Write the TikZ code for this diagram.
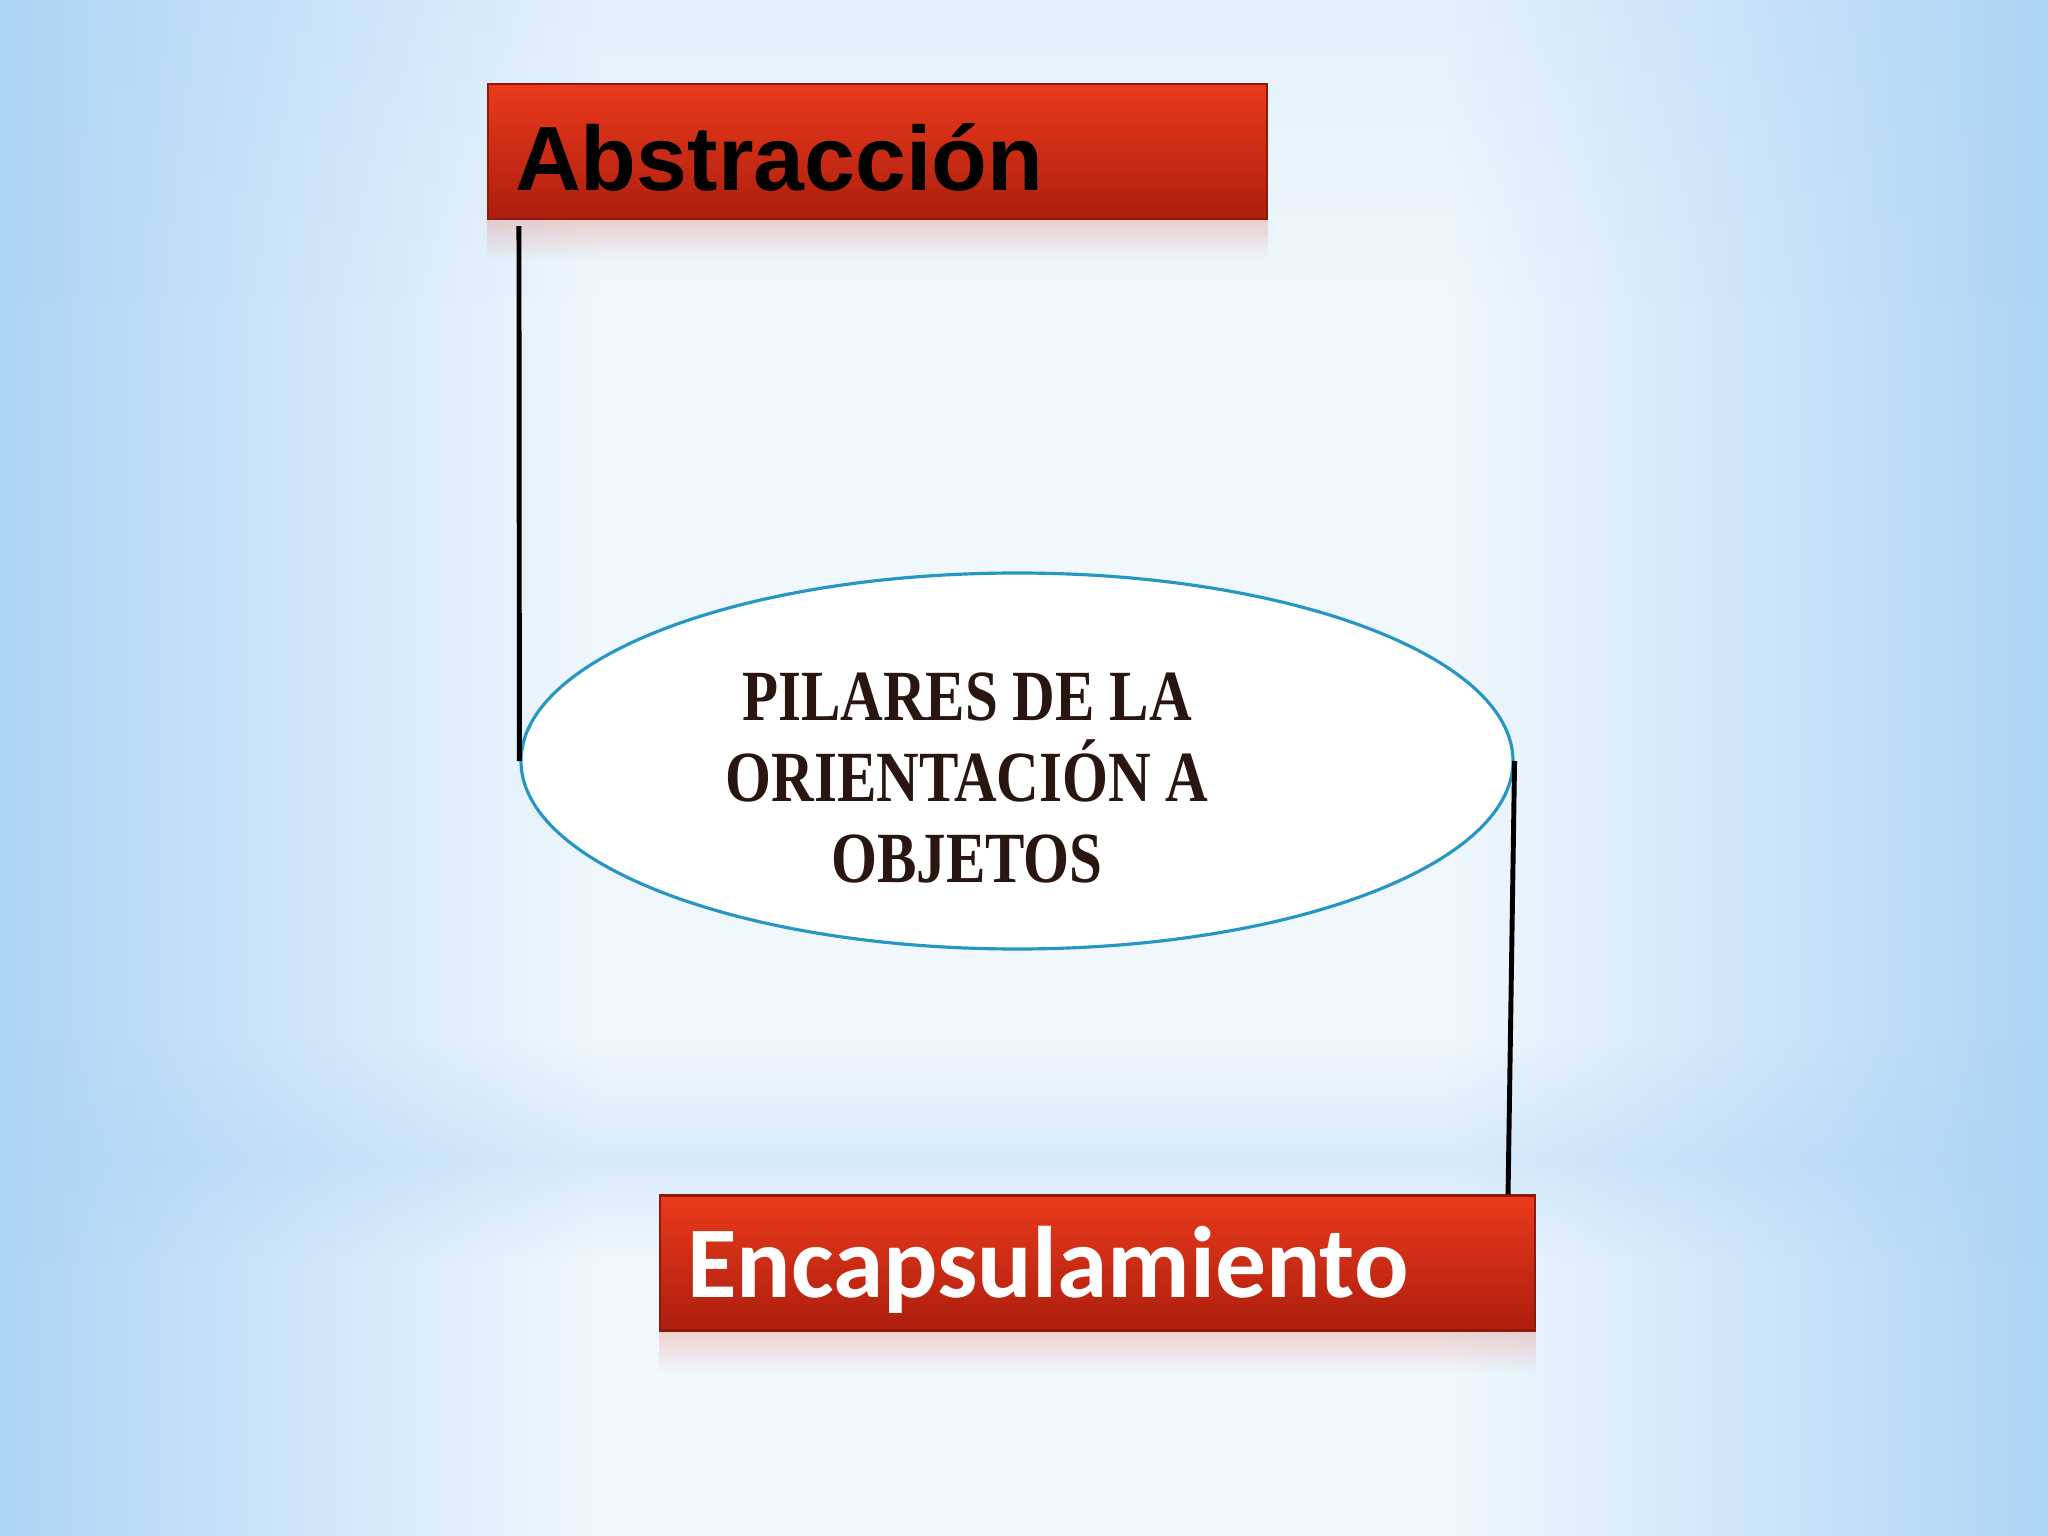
\documentclass[tikz,border=0pt]{standalone}
\usepackage{fontspec}
\usetikzlibrary{shapes,fadings}
\newfontfamily\cajafont{Liberation Sans}
\newfontfamily\encfont{Carlito}
\newfontfamily\pilarfont{Liberation Serif}[FakeStretch=0.82]

\definecolor{rojoarriba}{RGB}{234,58,28}
\definecolor{rojoabajo}{RGB}{172,30,14}
\definecolor{rojoborde}{RGB}{140,25,10}
\definecolor{azulelipse}{RGB}{38,150,196}
\definecolor{cafetexto}{RGB}{42,22,16}
\definecolor{bgazul}{RGB}{172,212,245}
\definecolor{bgclaro}{RGB}{240,247,253}

\tikzstyle{caja} = [rectangle, draw=rojoborde, line width=0.6pt,
    top color=rojoarriba, bottom color=rojoabajo, minimum height=1.35cm,
    inner xsep=0.27cm, inner ysep=0.1cm, align=left]
\tikzstyle{reflejo} = [fill=rojoarriba, fill opacity=0.2, path fading=south]
\tikzstyle{elipse} = [ellipse, draw=azulelipse, line width=0.9pt, fill=white,
    minimum width=9.92cm, minimum height=3.76cm, inner sep=0pt]
\tikzstyle{linea} = [draw, black, line width=1.4pt]

\begin{document}
\begin{tikzpicture}
		\useasboundingbox (0,0) rectangle (20.48,-15.36);
		% fondo
		\fill [bgclaro] (0,0) rectangle (20.48,-15.36);
		\shade [left color=bgazul, right color=bgclaro] (0,0) rectangle (6,-15.36);
		\shade [left color=bgclaro, right color=bgazul] (14.48,0) rectangle (20.48,-15.36);
		\fill [bgazul, opacity=0.2, path fading=south] (0,0) rectangle (20.48,-3);
		\fill [bgazul, opacity=0.35, path fading=north] (0,-10.4) rectangle (20.48,-11.6);
		\fill [bgazul, opacity=0.35, path fading=south] (0,-11.6) rectangle (20.48,-12.6);

		\node [caja, text width=7.25cm, text height=0.79cm, text depth=0cm,
			font=\cajafont\bfseries\fontsize{26}{30}\selectfont] (abstraccion) at (8.775,-1.515) {Abstracción};
		\node [caja, text width=8.21cm, text height=0.86cm, text depth=0.18cm, text=white,
			font=\encfont\bfseries\fontsize{28.9}{34}\selectfont] (encapsulamiento) at (10.975,-12.63) {Encapsulamiento};
		\fill [reflejo] (abstraccion.south west) rectangle ([yshift=-0.4cm]abstraccion.south east);
		\fill [reflejo] (encapsulamiento.south west) rectangle ([yshift=-0.4cm]encapsulamiento.south east);

		\node [elipse] (pilares) at (10.17,-7.61) {};
		\node [align=center, text=cafetexto, font=\pilarfont\bfseries\fontsize{20.5}{23}\selectfont] (pilarestexto) at (9.67,-7.78) {PILARES DE LA\\ORIENTACIÓN A\\OBJETOS};

		\path [linea] ([xshift=0.32cm,yshift=-0.06cm]abstraccion.south west) -- (pilares.west);
		\path [linea] (pilares.east) -- ([xshift=-0.28cm]encapsulamiento.north east);
	\end{tikzpicture}
\end{document}
